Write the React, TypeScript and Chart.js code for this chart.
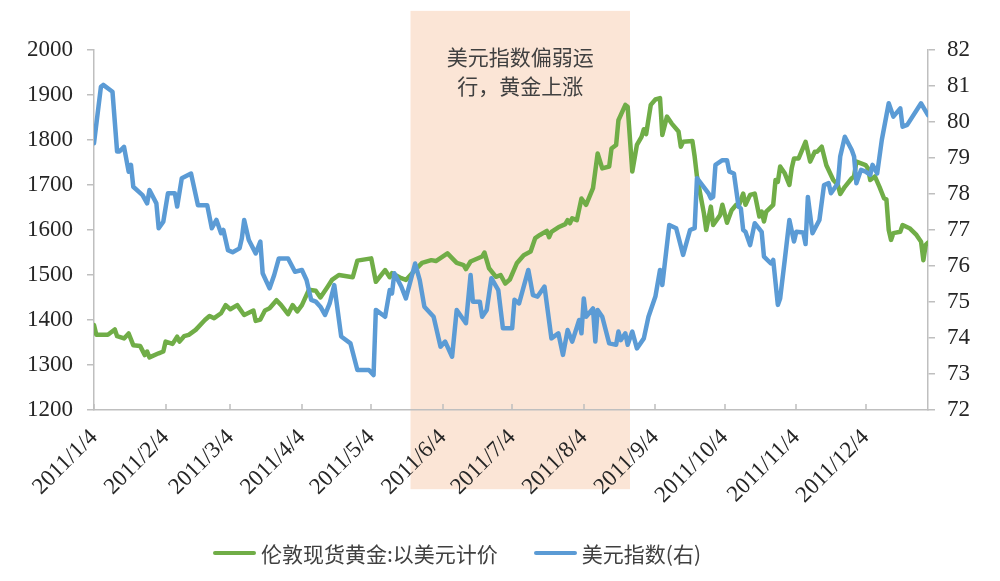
import React, { useEffect, useRef } from "react";
import { Chart, registerables } from "chart.js";

Chart.register(...registerables);

const YEAR = 2011;

// 伦敦现货黄金:以美元计价 (left axis)
const goldDates = [
  "01-04","01-05","01-10","01-13","01-14","01-17","01-19","01-21","01-24","01-26","01-27","01-28",
  "02-01","02-03","02-04","02-07","02-09","02-10","02-12","02-14","02-17","02-21","02-23","02-25","02-28",
  "03-02","03-04","03-07","03-10","03-14","03-15","03-17","03-19","03-21","03-24","03-26","03-29","03-31",
  "04-02","04-04","04-07","04-10","04-12","04-15","04-17","04-20","04-26","04-28",
  "05-04","05-06","05-10","05-12","05-13","05-17","05-19","05-23","05-26","05-30",
  "06-01","06-06","06-10","06-13","06-14","06-16","06-21","06-22","06-24","06-27","06-29",
  "07-01","07-03","07-06","07-09","07-12","07-14","07-16","07-19","07-20","07-21","07-24","07-27","07-28","07-29","07-30",
  "08-01","08-03","08-05","08-08","08-10","08-12","08-15","08-16","08-18","08-19","08-22","08-23","08-25","08-27","08-29","08-30","08-31",
  "09-02","09-04","09-06","09-07","09-09","09-11","09-14","09-15","09-16","09-20","09-21","09-22","09-25","09-26","09-28","09-29",
  "10-02","10-03","10-05","10-07","10-09","10-10","10-12","10-13","10-15","10-17","10-19","10-20","10-21","10-22","10-25","10-26","10-27","10-28","10-30",
  "11-01","11-02","11-03","11-05","11-08","11-10","11-12","11-13","11-15","11-17","11-20","11-22","11-23","11-25","11-28","11-29","11-30",
  "12-02","12-04","12-05","12-06","12-08","12-10","12-12","12-13","12-14","12-15","12-16","12-19","12-20","12-23","12-26","12-28","12-29","12-30","12-31",
];
const goldValues = [
  1389,1367,1367,1379,1364,1359,1370,1344,1342,1322,1330,1317,
  1326,1330,1352,1347,1363,1352,1364,1367,1378,1400,1409,1404,1415,
  1433,1424,1433,1411,1421,1398,1401,1421,1426,1444,1433,1413,1433,
  1419,1433,1467,1465,1450,1473,1489,1500,1495,1532,
  1537,1485,1511,1495,1504,1493,1489,1511,1527,1533,
  1531,1548,1527,1522,1513,1530,1541,1550,1515,1496,1500,
  1481,1490,1526,1544,1552,1582,1589,1598,1584,1596,1606,1613,1622,1615,1626,
  1622,1670,1656,1693,1770,1737,1741,1781,1789,1844,1878,1874,1730,1789,1807,1824,1813,
  1878,1890,1893,1811,1852,1837,1819,1785,1796,1798,1763,1719,1637,1600,1652,1611,
  1633,1656,1616,1644,1656,1652,1681,1656,1678,1681,1630,1641,1619,1641,1656,1711,1707,1741,1726,
  1700,1737,1759,1759,1796,1752,1774,1774,1785,1744,1711,1700,1680,1696,1715,1719,1752,
  1748,1744,1737,1711,1719,1696,1670,1668,1600,1578,1593,1596,1611,1604,1589,1574,1533,1567,1572,
];

// 美元指数(右) (right axis)
const usdDates = [
  "01-04","01-07","01-08","01-12","01-14","01-15","01-17","01-19","01-20","01-21","01-25","01-27","01-28","01-31",
  "02-01","02-03","02-05","02-08","02-09","02-11","02-15","02-18","02-22","02-24","02-26","02-28",
  "03-01","03-03","03-05","03-08","03-09","03-10","03-12","03-15","03-17","03-18","03-21","03-23","03-25","03-29",
  "04-01","04-04","04-06","04-08","04-10","04-12","04-14","04-16","04-18","04-21","04-25","04-28",
  "05-03","05-05","05-06","05-10","05-12","05-13","05-14","05-17","05-19","05-23","05-25","05-27","05-31",
  "06-03","06-05","06-08","06-10","06-14","06-16","06-17","06-20","06-21","06-23","06-25","06-28","06-30",
  "07-04","07-05","07-07","07-11","07-13","07-15","07-18","07-21","07-24","07-26","07-28","07-30",
  "08-02","08-03","08-04","08-05","08-08","08-09","08-10","08-12","08-15","08-18","08-19","08-20","08-22","08-23","08-25","08-27","08-30",
  "09-01","09-04","09-06","09-07","09-10","09-13","09-16","09-19","09-21","09-22","09-27","09-28","09-29","09-30",
  "10-03","10-05","10-06","10-08","10-10","10-11","10-12","10-13","10-15","10-17","10-20","10-21","10-24","10-25","10-27","10-28","10-30",
  "11-01","11-03","11-04","11-07","11-08","11-09","11-11","11-14","11-16","11-18","11-19","11-22","11-23","11-25","11-28","11-29","11-30",
  "12-02","12-04","12-06","12-07","12-09","12-11","12-14","12-16","12-19","12-20","12-22","12-28","12-31",
];
const usdValues = [
  79.41,80.98,81.03,80.84,79.18,79.18,79.31,78.62,78.81,78.20,77.97,77.74,78.11,77.74,
  77.05,77.23,78.02,78.02,77.65,78.44,78.57,77.69,77.69,77.05,77.28,76.91,
  77.00,76.44,76.38,76.49,76.77,77.28,76.72,76.35,76.68,75.80,75.38,75.75,76.21,76.21,
  75.84,75.89,75.61,75.06,75.01,74.87,74.64,74.96,75.47,74.04,73.85,73.11,
  73.11,72.97,74.78,74.59,75.33,75.24,75.80,75.43,75.10,76.07,75.61,74.87,74.59,
  73.76,73.90,73.48,74.78,74.41,75.75,75.01,75.01,74.59,74.78,75.66,75.33,74.27,
  74.27,75.06,74.96,75.89,75.19,75.15,75.43,73.99,74.13,73.53,74.22,73.90,
  74.50,74.13,75.10,74.59,74.82,73.90,74.78,74.59,73.85,73.81,74.18,73.94,74.13,73.81,74.18,73.71,73.99,
  74.59,75.15,75.89,75.47,77.14,77.05,76.31,77.00,77.05,78.44,78.02,77.88,77.92,78.81,
  78.94,78.94,78.62,78.57,77.65,77.60,77.00,76.95,76.58,77.19,76.95,76.26,76.07,76.17,74.92,75.10,76.17,
  77.28,76.68,76.95,76.93,76.61,77.92,76.91,77.28,78.25,78.30,78.02,78.30,79.04,79.59,79.22,79.04,78.30,
  78.67,78.62,78.53,78.81,78.57,79.50,80.52,80.15,80.38,79.87,79.92,80.52,80.19,
];

const xTickDates = ["01-04","02-04","03-04","04-04","05-04","06-04","07-04","08-04","09-04","10-04","11-04","12-04"];
const xTickLabels = ["2011/1/4","2011/2/4","2011/3/4","2011/4/4","2011/5/4","2011/6/4","2011/7/4","2011/8/4","2011/9/4","2011/10/4","2011/11/4","2011/12/4"];
const leftTicks = [1200, 1300, 1400, 1500, 1600, 1700, 1800, 1900, 2000];
const rightTicks = [72, 73, 74, 75, 76, 77, 78, 79, 80, 81, 82];
const xStartDate = "01-04";
const xEndDate = "12-31";

// shaded period and its note
const shadeStartDate = "05-21";
const shadeEndDate = "08-24";
const shadeTopValue = 2087;
const shadeBottomValue = 1024;
const noteLines = ["美元指数偏弱运", "行，黄金上涨"];

const seriesNames = ["伦敦现货黄金:以美元计价", "美元指数(右)"];

const GREEN = "#70AD47";
const BLUE = "#5B9BD5";
const SHADE = "#FBE5D6";
const AXIS = "#BFBFBF";
const TEXT = "#262626";
const NUM_FONT = "'Liberation Serif', 'DejaVu Serif', serif";
const CJK_FONT = "'Noto Sans CJK SC', sans-serif";

const DAY = 86400000;
const dayOf = (md: string) => {
  const [m, d] = md.split("-").map(Number);
  const [m0, d0] = xStartDate.split("-").map(Number);
  return (Date.UTC(YEAR, m - 1, d) - Date.UTC(YEAR, m0 - 1, d0)) / DAY;
};

const overlayPlugin = {
  id: "overlay",
  beforeDraw(chart: any) {
    const { ctx, scales } = chart;
    const xs = scales.x;
    const ys = scales.y;
    const x1 = xs.getPixelForValue(dayOf(shadeStartDate));
    const x2 = xs.getPixelForValue(dayOf(shadeEndDate));
    const y1 = ys.getPixelForValue(shadeTopValue);
    const y2 = ys.getPixelForValue(shadeBottomValue);
    ctx.save();
    ctx.fillStyle = SHADE;
    ctx.fillRect(x1, y1, x2 - x1, y2 - y1);
    ctx.fillStyle = "#404040";
    ctx.font = `21px ${CJK_FONT}`;
    ctx.textAlign = "center";
    ctx.textBaseline = "middle";
    const cx = (x1 + x2) / 2;
    noteLines.forEach((t, i) => ctx.fillText(t, cx, y1 + 46 + i * 29));
    ctx.restore();
  },
  afterDraw(chart: any) {
    const { ctx, scales, chartArea } = chart;
    const xs = scales.x;
    ctx.save();
    ctx.strokeStyle = AXIS;
    ctx.lineWidth = 1.5;
    ctx.beginPath();
    xTickDates.forEach((d) => {
      const px = Math.round(xs.getPixelForValue(dayOf(d)));
      ctx.moveTo(px, chartArea.bottom);
      ctx.lineTo(px, chartArea.bottom - 6);
    });
    ctx.stroke();
    ctx.restore();
  },
};

export default function App() {
  const ref = useRef<HTMLCanvasElement>(null);

  useEffect(() => {
    if (!ref.current) return;
    const tickLabelByDay: Record<number, string> = {};
    xTickDates.forEach((d, i) => (tickLabelByDay[dayOf(d)] = xTickLabels[i]));

    const chart = new Chart(ref.current, {
      type: "line",
      data: {
        datasets: [
          {
            label: seriesNames[0],
            data: goldDates.map((d, i) => ({ x: dayOf(d), y: goldValues[i] })),
            borderColor: GREEN,
            backgroundColor: GREEN,
            borderWidth: 4.5,
            pointRadius: 0,
            tension: 0,
            borderJoinStyle: "round",
            borderCapStyle: "round",
            yAxisID: "y",
            order: 1,
          },
          {
            label: seriesNames[1],
            data: usdDates.map((d, i) => ({ x: dayOf(d), y: usdValues[i] })),
            borderColor: BLUE,
            backgroundColor: BLUE,
            borderWidth: 4.5,
            pointRadius: 0,
            tension: 0,
            borderJoinStyle: "round",
            borderCapStyle: "round",
            yAxisID: "y1",
            order: 0,
          },
        ],
      },
      options: {
        animation: false,
        responsive: false,
        maintainAspectRatio: false,
        layout: { padding: { top: 50, bottom: 71, left: 0, right: 0 } },
        plugins: {
          legend: { display: false },
          tooltip: { enabled: false },
        },
        scales: {
          x: {
            type: "linear",
            min: dayOf(xStartDate),
            max: dayOf(xEndDate),
            grid: { display: false, drawTicks: false },
            border: { display: true, color: AXIS, width: 1.5 },
            afterBuildTicks: (scale: any) => {
              scale.ticks = xTickDates.map((d) => ({ value: dayOf(d) }));
            },
            afterFit: (scale: any) => {
              scale.height = 100;
            },
            ticks: {
              autoSkip: false,
              maxRotation: 45,
              minRotation: 45,
              padding: 14,
              color: TEXT,
              font: { family: NUM_FONT, size: 23 },
              callback: (v: any) => tickLabelByDay[v as number] ?? "",
            },
          },
          y: {
            type: "linear",
            position: "left",
            min: leftTicks[0],
            max: leftTicks[leftTicks.length - 1],
            afterBuildTicks: (scale: any) => {
              scale.ticks = leftTicks.map((v) => ({ value: v }));
            },
            afterFit: (scale: any) => {
              scale.width = 94;
            },
            grid: { drawOnChartArea: false, tickLength: 7, color: AXIS, lineWidth: 1.5 },
            border: { display: true, color: AXIS, width: 1.5 },
            ticks: {
              padding: 14,
              color: TEXT,
              font: { family: NUM_FONT, size: 23 },
              callback: (v: any) => String(v),
            },
          },
          y1: {
            type: "linear",
            position: "right",
            min: rightTicks[0],
            max: rightTicks[rightTicks.length - 1],
            afterBuildTicks: (scale: any) => {
              scale.ticks = rightTicks.map((v) => ({ value: v }));
            },
            afterFit: (scale: any) => {
              scale.width = 72;
            },
            grid: { drawOnChartArea: false, tickLength: 7, color: AXIS, lineWidth: 1.5 },
            border: { display: true, color: AXIS, width: 1.5 },
            ticks: {
              padding: 12,
              color: TEXT,
              font: { family: NUM_FONT, size: 23 },
              callback: (v: any) => String(v),
            },
          },
        },
      },
      plugins: [overlayPlugin],
    } as any);
    return () => chart.destroy();
  }, []);

  const legendText: React.CSSProperties = {
    fontFamily: CJK_FONT,
    fontSize: 21,
    color: "#404040",
    lineHeight: "30px",
    whiteSpace: "nowrap",
  };
  const legendLine = (c: string): React.CSSProperties => ({
    width: 43,
    height: 4,
    background: c,
    borderRadius: 2,
    marginRight: 5,
  });

  return (
    <div style={{ position: "fixed", left: 0, top: 0, width: 1000, height: 581, background: "#fff" }}>
      <canvas ref={ref} width={1000} height={581} style={{ display: "block", width: 1000, height: 581 }} />
      <div
        style={{
          position: "absolute",
          left: 213,
          top: 538,
          height: 30,
          display: "flex",
          alignItems: "center",
        }}
      >
        <div style={legendLine(GREEN)} />
        <span style={{ ...legendText, marginRight: 36 }}>{seriesNames[0]}</span>
        <div style={legendLine(BLUE)} />
        <span style={legendText}>{seriesNames[1]}</span>
      </div>
    </div>
  );
}
